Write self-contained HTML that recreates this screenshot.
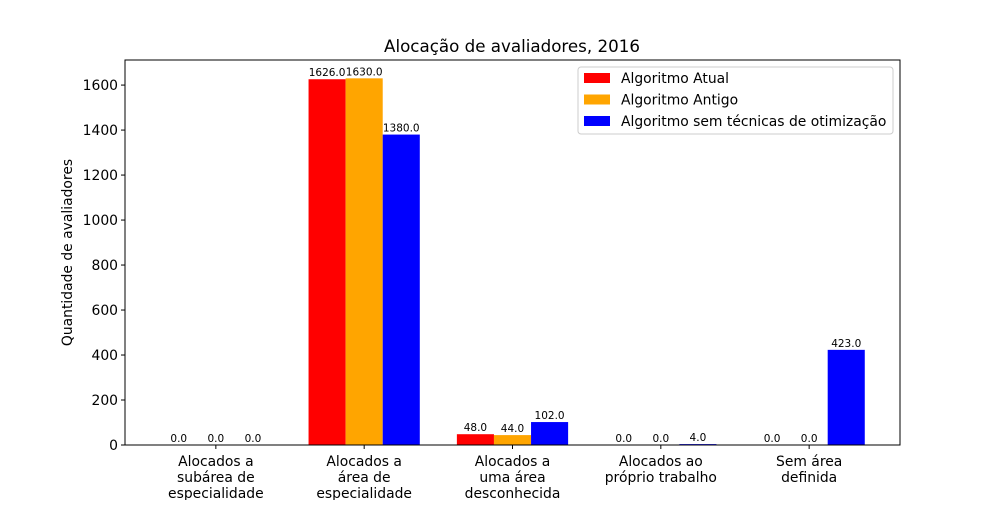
<!DOCTYPE html>
<html><head><meta charset="utf-8"><style>
body{margin:0;background:#fff}
svg{font-family:"DejaVu Sans","Liberation Sans",sans-serif}
</style></head><body>
<svg id="chart" width="1000" height="500">
<rect width="1000" height="500" fill="#fff"/>
<text x="512" y="52" font-size="16.7" text-anchor="middle">Alocação de avaliadores, 2016</text>
<g id="bars"></g>
<g id="axes"></g>
</svg>
<script>
const categories=[["Alocados a","subárea de","especialidade"],["Alocados a","área de","especialidade"],["Alocados a","uma área","desconhecida"],["Alocados ao","próprio trabalho"],["Sem área","definida"]];
const seriesNames=["Algoritmo Atual","Algoritmo Antigo","Algoritmo sem técnicas de otimização"];
const seriesColors=["#ff0000","#ffa500","#0000ff"];
const atual=[0,1626,48,0,0];
const antigo=[0,1630,44,0,0];
const semOtim=[0,1380,102,4,423];
const yTicks=[0,200,400,600,800,1000,1200,1400,1600];
const series=[atual,antigo,semOtim];
const L=125,R=900,T=60,B=445;
const FS=13.9;
const ymax=Math.max(...series.flat())*1.05;
const xmin=-0.6125,xmax=categories.length-1+0.6125;
const xs=v=>L+(v-xmin)/(xmax-xmin)*(R-L);
const ys=v=>B-v/ymax*(B-T);
const NS="http://www.w3.org/2000/svg";
function mk(t,a,p){const e=document.createElementNS(NS,t);for(const k in a)e.setAttribute(k,a[k]);p.appendChild(e);return e;}
const bars=document.getElementById('bars'),axes=document.getElementById('axes');
const w=0.25;
series.forEach((s,si)=>{s.forEach((v,i)=>{
 const c=i+(si-1)*w;
 const r=mk('rect',{x:xs(c-w/2),y:ys(v),width:xs(c+w/2)-xs(c-w/2),height:B-ys(v),fill:seriesColors[si]},bars);
 
 
 const t=mk('text',{x:xs(c),y:ys(v)-3,'font-size':10.5,'text-anchor':'middle'},bars);
 t.textContent=v.toFixed(1);
 
 
});});
const frame=mk('rect',{x:L,y:T,width:R-L,height:B-T,fill:'none',stroke:'#000','stroke-width':1},axes);


yTicks.forEach(v=>{
 mk('line',{x1:L-4,x2:L,y1:ys(v),y2:ys(v),stroke:'#000'},axes);
 const t=mk('text',{x:L-7,y:ys(v)+5,'font-size':FS,'text-anchor':'end'},axes);
 t.textContent=v;
 
 
});
categories.forEach((lines,i)=>{
 mk('line',{x1:xs(i),x2:xs(i),y1:B,y2:B+4,stroke:'#000'},axes);
 lines.forEach((ln,j)=>{
  const t=mk('text',{x:xs(i),y:B+21+j*16,'font-size':FS,'text-anchor':'middle'},axes);
  t.textContent=ln;
  
  
 });
});
const yt=mk('text',{x:0,y:0,'font-size':FS,'text-anchor':'middle',transform:`translate(72,${(T+B)/2}) rotate(-90)`},axes);
yt.textContent='Quantidade de avaliadores';


const lg=mk('g',{},axes);


mk('rect',{x:578,y:67,width:315,height:67,fill:'#fff',stroke:'#ccc',rx:3},lg);
seriesNames.forEach((n,i)=>{
 const y=78+i*21.5;
 const sw=mk('rect',{x:584,y:y-5,width:26,height:10,fill:seriesColors[i]},lg);
 
 
 const t=mk('text',{x:621,y:y+5,'font-size':FS},lg);
 t.textContent=n;
 
 
});
</script>
</body></html>
